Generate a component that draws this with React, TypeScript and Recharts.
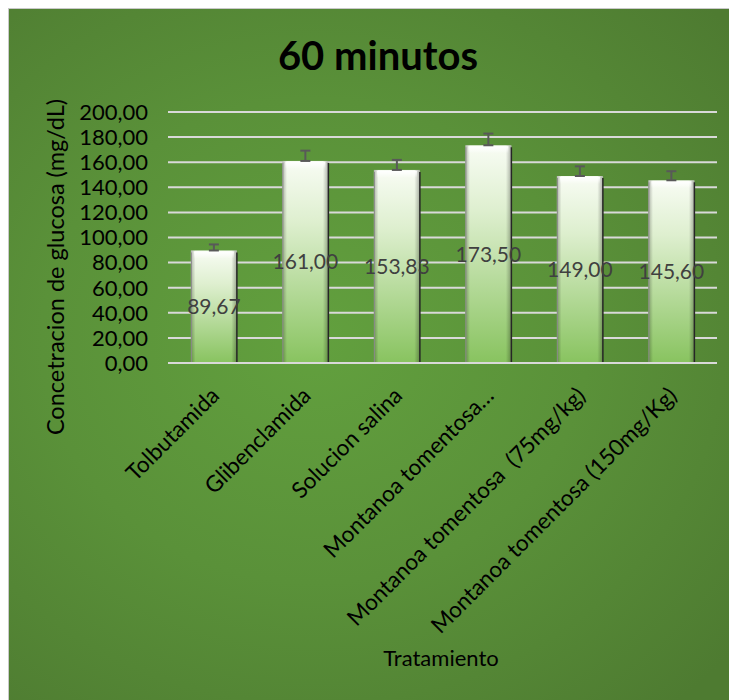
import { BarChart, Bar, XAxis, YAxis, CartesianGrid, ErrorBar, LabelList } from 'recharts'

const treatments = [
    'Tolbutamida',
    'Glibenclamida',
    'Solucion salina',
    'Montanoa tomentosa…',
    'Montanoa tomentosa  (75mg/kg)',
    'Montanoa tomentosa (150mg/Kg)',
]
const glucose = [89.67, 161.0, 153.83, 173.5, 149.0, 145.6]
const errorUp = [4.8, 8.2, 8.0, 9.3, 7.7, 7.2]
const yTicks = [0, 20, 40, 60, 80, 100, 120, 140, 160, 180, 200]

const data = treatments.map((name, i) => ({
    name,
    value: glucose[i],
    err: [0, errorUp[i]],
}))

const font = 'Lato, "Open Sans", sans-serif'
const fmt = (v: number) => v.toFixed(2).replace('.', ',')

function BevelBar(props: any) {
    const { x, y, width, height } = props
    if (!height || height <= 0) return null
    return (
        <g>
            <rect x={x} y={y} width={width} height={height} fill="url(#barFill)" />
            <rect x={x} y={y} width={width} height={height} fill="url(#barEdge)" />
            <rect x={x + 3} y={y + 1} width={width - 6} height={7} fill="url(#barTop)" />
            <line x1={x + 0.5} y1={y + 2} x2={x + 0.5} y2={y + height} stroke="#8a8a8a" strokeWidth={1} />
            <line x1={x + width} y1={y + 2} x2={x + width} y2={y + height} stroke="#262626" strokeWidth={1.5} />
        </g>
    )
}

function XTick({ x, y, payload }: any) {
    return (
        <text
            transform={`translate(${x + 7},${y + 34}) rotate(-45)`}
            textAnchor="end"
            fontSize={22.5}
            fontFamily={font}
            fill="#000"
            style={{ whiteSpace: 'pre' }}
        >
            {payload.value}
        </text>
    )
}

export default function App() {
    return (
        <div
            style={{
                position: 'relative',
                width: 728,
                height: 691,
                borderLeft: '1px solid #c9c9c9',
                borderTop: '1px solid #c9c9c9',
                background:
                    'radial-gradient(ellipse 75% 70% at 42% 48%, #62a03e 0%, #5a9139 50%, #4e7b31 100%)',
                fontFamily: font,
            }}
        >
            <style>{`body{margin:8px;overflow:hidden}`}</style>
            <div
                style={{
                    position: 'absolute',
                    left: 0,
                    width: 738,
                    top: 22,
                    textAlign: 'center',
                    fontSize: 40,
                    fontWeight: 700,
                    color: '#000',
                    lineHeight: '48px',
                }}
            >
                60 minutos
            </div>
            <div
                style={{
                    position: 'absolute',
                    left: 0,
                    width: 864,
                    top: 635,
                    textAlign: 'center',
                    fontSize: 22,
                    color: '#000',
                }}
            >
                Tratamiento
            </div>
            <div
                style={{
                    position: 'absolute',
                    left: 46,
                    top: 258,
                    width: 0,
                    height: 0,
                }}
            >
                <div
                    style={{
                        position: 'absolute',
                        transform: 'translate(-50%, -50%) rotate(-90deg)',
                        whiteSpace: 'nowrap',
                        fontSize: 23.5,
                        color: '#000',
                    }}
                >
                    Concetracion de glucosa (mg/dL)
                </div>
            </div>
            <BarChart
                width={728}
                height={691}
                data={data}
                margin={{ top: 103, right: 20, bottom: 0, left: 79 }}
                barCategoryGap="25%"
                style={{ position: 'absolute', left: 0, top: 0 }}
            >
                <defs>
                    <linearGradient id="barFill" x1="0" y1="0" x2="0" y2="1">
                        <stop offset="0%" stopColor="#f8fcf4" />
                        <stop offset="30%" stopColor="#deefcf" />
                        <stop offset="100%" stopColor="#88c35f" />
                    </linearGradient>
                    <linearGradient id="barEdge" x1="0" y1="0" x2="1" y2="0">
                        <stop offset="0%" stopColor="#000" stopOpacity={0.28} />
                        <stop offset="10%" stopColor="#000" stopOpacity={0} />
                        <stop offset="88%" stopColor="#000" stopOpacity={0} />
                        <stop offset="100%" stopColor="#000" stopOpacity={0.3} />
                    </linearGradient>
                    <linearGradient id="barTop" x1="0" y1="0" x2="0" y2="1">
                        <stop offset="0%" stopColor="#fff" stopOpacity={1} />
                        <stop offset="100%" stopColor="#fff" stopOpacity={0} />
                    </linearGradient>
                </defs>
                <CartesianGrid vertical={false} stroke="#d9d9d9" strokeWidth={2} />
                <XAxis
                    dataKey="name"
                    interval={0}
                    height={337}
                    tickSize={0}
                    tickMargin={0}
                    tick={<XTick />}
                    axisLine={{ stroke: '#d9d9d9', strokeWidth: 2 }}
                    tickLine={false}
                />
                <YAxis
                    width={80}
                    domain={[0, 200]}
                    ticks={yTicks}
                    tickFormatter={fmt}
                    tickSize={0}
                    tickMargin={20}
                    axisLine={false}
                    tickLine={false}
                    tick={{ fill: '#000', fontSize: 22, fontFamily: font }}
                    interval={0}
                />
                <Bar dataKey="value" shape={<BevelBar />} isAnimationActive={false}>
                    <ErrorBar dataKey="err" width={5} stroke="#595959" strokeWidth={2} direction="y" />
                    <LabelList
                        dataKey="value"
                        position="center"
                        formatter={(v: any) => fmt(Number(v))}
                        fill="#404040"
                        fontSize={21}
                        fontFamily={font}
                    />
                </Bar>
            </BarChart>
        </div>
    )
}
